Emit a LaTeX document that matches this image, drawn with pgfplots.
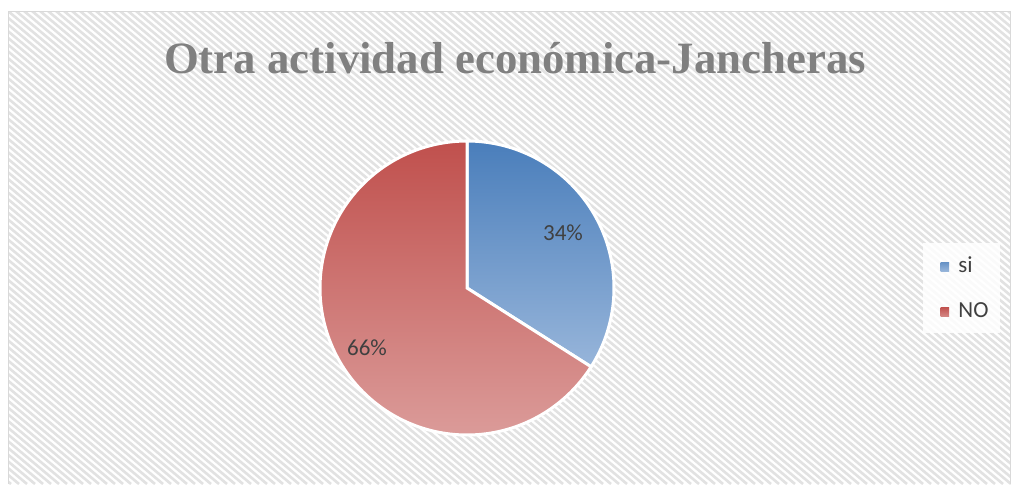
\documentclass[border=0pt]{standalone}
\usepackage{pgfplots}
\pgfplotsset{compat=1.18}
\usepackage{pgfplotstable}
\usepackage{fontspec}
\setmainfont{Carlito}
\newfontfamily\titlefont{Liberation Serif}
\definecolor{blueTop}{RGB}{74,126,187}
\definecolor{blueBot}{RGB}{151,181,218}
\definecolor{redTop}{RGB}{192,80,77}
\definecolor{redBot}{RGB}{219,155,153}
\definecolor{titlegray}{RGB}{128,128,128}
\definecolor{txt}{RGB}{64,64,64}
\definecolor{stripe}{RGB}{226,226,226}
\definecolor{frame}{RGB}{217,217,217}
\pgfplotstableread{
label value
si 34
NO 66
}\piedata
\pgfplotstablegetelem{0}{value}\of\piedata
\let\vsi\pgfplotsretval
\pgfplotstablegetelem{1}{value}\of\piedata
\let\vno\pgfplotsretval
\pgfmathsetmacro{\aSplit}{90-360*\vsi/(\vsi+\vno)}
\pgfmathsetmacro{\aLast}{90-360}
\begin{document}%
\begin{tikzpicture}
\begin{axis}[width=506pt,height=242pt,scale only axis,
  xmin=0,xmax=1012,ymin=0,ymax=484,hide axis,clip=false]
\coordinate (SW) at (axis cs:0,0);
\coordinate (NE) at (axis cs:1012,484);
\fill[white] (axis cs:0,0) rectangle (axis cs:1012,484);
\begin{scope}
\clip (axis cs:8,0) rectangle (axis cs:1010.5,473);
\pgfplotsinvokeforeach{-75,...,128}{
  \draw[stripe,line width=1.3pt] (axis cs:{#1*8},473) -- (axis cs:{#1*8+563},0);
}
\end{scope}
\draw[frame,line width=0.6pt] (axis cs:8.5,0) -- (axis cs:8.5,472.5) -- (axis cs:1010.5,472.5) -- (axis cs:1010.5,0);
% legend background
\fill[white,opacity=0.85] (axis cs:923,151) rectangle (axis cs:1000,241);
% pie slices
\addplot[draw=white,line width=1.5pt,top color=blueTop,bottom color=blueBot,
  domain=\aSplit:90,samples=120,variable=\t]
  ({467+147*cos(\t)},{196+147*sin(\t)}) -- (axis cs:467,196) -- cycle;
\addplot[draw=white,line width=1.5pt,top color=redTop,bottom color=redBot,
  domain=\aLast:\aSplit,samples=200,variable=\t]
  ({467+147*cos(\t)},{196+147*sin(\t)}) -- (axis cs:467,196) -- cycle;
% data labels
\node[anchor=base,text=txt,font=\fontsize{11.5}{14}\selectfont] at (axis cs:563,244) {\vsi\%};
\node[anchor=base,text=txt,font=\fontsize{11.5}{14}\selectfont] at (axis cs:367,129) {\vno\%};
% title
\node[anchor=base,text=titlegray,font=\titlefont\bfseries\fontsize{22.4}{26}\selectfont] at (axis cs:515,411) {Otra actividad económica-Jancheras};
% legend
\fill[top color=blueTop!85!white,bottom color=blueBot] (axis cs:940.5,213) rectangle (axis cs:949,222);
\fill[top color=redTop,bottom color=redTop!70!white] (axis cs:940.5,168) rectangle (axis cs:949,177);
\node[anchor=base west,inner sep=0pt,text=txt,font=\fontsize{11.5}{14}\selectfont] at (axis cs:958,212) {si};
\node[anchor=base west,inner sep=0pt,text=txt,font=\fontsize{11.5}{14}\selectfont] at (axis cs:958,167) {NO};
\end{axis}
\pgfresetboundingbox
\useasboundingbox (SW) rectangle (NE);
\end{tikzpicture}%
\end{document}
